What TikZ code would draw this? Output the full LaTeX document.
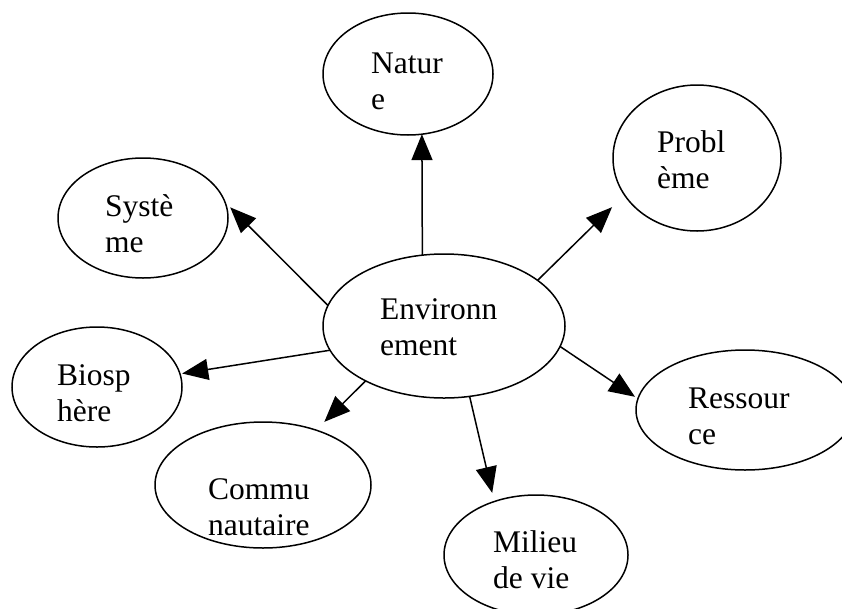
\documentclass[tikz,border=0pt]{standalone}
\usepackage{fontspec}
\setmainfont{Liberation Serif}
\usetikzlibrary{arrows.meta,shapes.geometric}
\begin{document}
\begin{tikzpicture}[x=1pt,y=-1pt,
  ell/.style={ellipse, draw, line width=1.5pt, inner sep=0pt, outer sep=0pt},
  lbl/.style={anchor=base west, inner sep=0pt, font=\fontsize{31.5}{36}\selectfont},
  arr/.style={line width=1.5pt, -{Triangle[length=26pt,width=21pt]}}]
\clip (0,0) rectangle (842,608);
% ellipses
\node[ell, minimum width=170pt, minimum height=122pt] (nat)  at (408,74)  {};
\node[ell, minimum width=168pt, minimum height=146pt] (prob) at (697,158) {};
\node[ell, minimum width=170pt, minimum height=120pt] (sys)  at (143,218) {};
\node[ell, minimum width=242pt, minimum height=144pt] (env)  at (444,326) {};
\node[ell, minimum width=170pt, minimum height=120pt] (bio)  at (97,387)  {};
\node[ell, minimum width=218pt, minimum height=120pt] (res)  at (745,410) {};
\node[ell, minimum width=216pt, minimum height=126pt] (com)  at (263,485) {};
\node[ell, minimum width=184pt, minimum height=120pt] (mil)  at (536,555) {};
% texts
\node[lbl] (natT)  at (371,73)  {\vtop{\hbox{Natur}\hbox{e}}};
\node[lbl] (probT) at (657,152) {\vtop{\hbox{Probl}\hbox{ème}}};
\node[lbl] (sysT)  at (105,216) {\vtop{\hbox{Systè}\hbox{me}}};
\node[lbl] (envT)  at (380,319) {\vtop{\hbox{Environn}\hbox{ement}}};
\node[lbl] (bioT)  at (57,385)  {\vtop{\hbox{Biosp}\hbox{hère}}};
\node[lbl] (resT)  at (688,408) {\vtop{\hbox{Ressour}\hbox{ce}}};
\node[lbl] (comT)  at (208,499) {\vtop{\hbox{Commu}\hbox{nautaire}}};
\node[lbl] (milT)  at (493,552) {\vtop{\hbox{Milieu}\hbox{de vie}}};
% arrows
\draw[arr] (env.107) -- (nat.283);
\draw[arr, shorten >=17.5pt] (env.26) -- (prob.207);
\draw[arr, shorten >=7.4pt] (env.170) -- (sys.11);
\draw[arr, shorten >=2.3pt] (env.192) -- (bio.9);
\draw[arr, shorten >=11.7pt] (env.215) -- (com.46);
\draw[arr, shorten >=3.5pt] (env.350) -- (res.174);
\draw[arr, shorten >=8.9pt] (env.290) -- (mil.128);
\end{tikzpicture}
\end{document}
